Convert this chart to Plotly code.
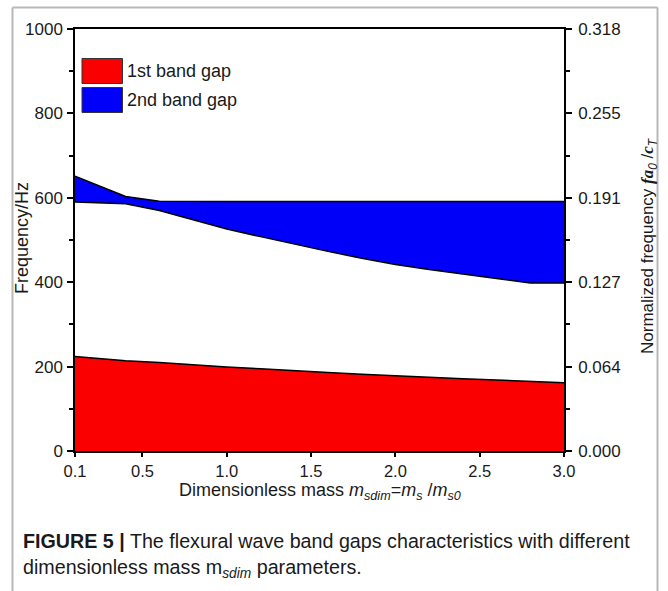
import plotly.graph_objects as go

# Dimensionless mass values where the band edges were computed
mass = [0.1, 0.4, 0.6, 0.8, 1.0, 1.2, 1.4, 1.6, 1.8, 2.0, 2.2, 2.4, 2.6, 2.8, 3.0]

# 1st band gap: lower edge is 0 Hz, upper edge below
gap1_upper = [224, 214, 210, 204, 199, 195, 190, 186, 182, 178, 175, 171, 168, 165, 162]

# 2nd band gap edges (Hz)
gap2_lower = [590, 586, 570, 548, 526, 508, 490, 473, 457, 442, 430, 420, 409, 398, 398]
gap2_upper = [651, 603, 592, 591, 591, 591, 591, 591, 591, 591, 591, 591, 591, 591, 591]

x_ticks = [0.1, 0.5, 1.0, 1.5, 2.0, 2.5, 3.0]
x_tick_text = ["0.1", "0.5", "1.0", "1.5", "2.0", "2.5", "3.0"]
y_ticks = [0, 200, 400, 600, 800, 1000]
y2_tick_text = ["0.000", "0.064", "0.127", "0.191", "0.255", "0.318"]

legend_names = ["1st band gap", "2nd band gap"]
RED = "#fa0000"
BLUE = "#0000fa"
FONT = "Liberation Sans, Arial, sans-serif"
TXT = "#1a1a1a"

W, H = 668, 591
L, R, T, B = 75, 104, 29, 140
PW, PH = W - L - R, H - T - B


def px(x):
    return (x - L) / PW


def py(y):
    return (H - B - y) / PH


fig = go.Figure()

fig.add_trace(go.Scatter(
    x=mass, y=gap1_upper, mode="lines", fill="tozeroy", fillcolor=RED,
    line=dict(color="black", width=1.5), name=legend_names[0], showlegend=False,
    hoverinfo="skip"))

fig.add_trace(go.Scatter(
    x=mass, y=gap2_lower, mode="lines",
    line=dict(color="black", width=1.5), showlegend=False, hoverinfo="skip"))
fig.add_trace(go.Scatter(
    x=mass, y=gap2_upper, mode="lines", fill="tonexty", fillcolor=BLUE,
    line=dict(color="black", width=1.5), name=legend_names[1], showlegend=False,
    hoverinfo="skip"))

# invisible trace so the normalized-frequency axis is drawn
fig.add_trace(go.Scatter(x=[mass[0]], y=[0], yaxis="y2", mode="markers",
                         marker=dict(opacity=0), showlegend=False, hoverinfo="skip"))

tickfont = dict(family=FONT, size=17, color=TXT)
minor = dict(dtick=100, ticks="outside", ticklen=4, tickwidth=1.5, tickcolor="black")

fig.update_layout(
    width=W, height=H,
    margin=dict(l=L, r=R, t=T, b=B),
    paper_bgcolor="white", plot_bgcolor="white",
    showlegend=False,
    xaxis=dict(
        range=[0.1, 3.0], tickvals=x_ticks, ticktext=x_tick_text,
        ticks="outside", ticklen=4, tickwidth=1.5, tickcolor="black",
        showline=True, linecolor="black", linewidth=1.5, mirror=True,
        showgrid=False, zeroline=False, tickfont=dict(family=FONT, size=16.5, color=TXT),
    ),
    yaxis=dict(
        range=[0, 1000], tickvals=y_ticks,
        ticks="outside", ticklen=6, tickwidth=1.5, tickcolor="black", minor=minor,
        showline=True, linecolor="black", linewidth=1.5,
        showgrid=False, zeroline=False, tickfont=tickfont, ticklabelstandoff=1,
    ),
    yaxis2=dict(
        range=[0, 1000], overlaying="y", side="right", anchor="x",
        tickvals=y_ticks, ticktext=y2_tick_text,
        ticks="outside", ticklen=6, tickwidth=1.5, tickcolor="black", minor=minor,
        showline=True, linecolor="black", linewidth=1.5,
        showgrid=False, zeroline=False, tickfont=tickfont, ticklabelstandoff=3,
    ),
)

# axis titles
title_font = dict(family=FONT, size=18, color=TXT)
fig.add_annotation(
    xref="paper", yref="paper", x=px(320), y=py(491),
    text="Dimensionless mass <i>m</i><sub><i>sdim</i></sub>=<i>m</i><sub><i>s</i></sub> /<i>m</i><sub><i>s0</i></sub>",
    showarrow=False, xanchor="center", yanchor="middle", font=title_font)
fig.add_annotation(
    xref="paper", yref="paper", x=px(22), y=py(238), text="Frequency/Hz",
    textangle=-90, showarrow=False, xanchor="center", yanchor="middle", font=title_font)
fig.add_annotation(
    xref="paper", yref="paper", x=px(649), y=py(246),
    text="Normalized frequency <b><i><span style='font-family:Liberation Serif,serif'>fa</span></i></b><sub><i>0</i></sub> /<b><i><span style='font-family:Liberation Serif,serif'>c</span></i></b><sub><i>T</i></sub>",
    textangle=-90, showarrow=False, xanchor="center", yanchor="middle",
    font=dict(family=FONT, size=17, color=TXT))

# legend swatches and labels
swatches = [(58.5, 83.5, RED), (87.5, 112.5, BLUE)]
for (y0, y1, col), name in zip(swatches, legend_names):
    fig.add_shape(type="rect", xref="paper", yref="paper",
                  x0=px(82), x1=px(122.5), y0=py(y1), y1=py(y0),
                  fillcolor=col, line=dict(color="#333", width=1))
    fig.add_annotation(xref="paper", yref="paper", x=px(125), y=py((y0 + y1) / 2),
                       text=name, showarrow=False, xanchor="left", yanchor="middle",
                       font=dict(family=FONT, size=18, color=TXT))

# page frame around figure and caption
frame = dict(color="#b8b8b8", width=2)
fig.add_shape(type="line", xref="paper", yref="paper", x0=px(12.5), x1=px(657.5),
              y0=py(7.5), y1=py(7.5), line=frame)
fig.add_shape(type="line", xref="paper", yref="paper", x0=px(12.5), x1=px(12.5),
              y0=py(7.5), y1=py(595), line=frame)
fig.add_shape(type="line", xref="paper", yref="paper", x0=px(657.5), x1=px(657.5),
              y0=py(7.5), y1=py(595), line=frame)

caption = [
    "<b>FIGURE 5 |</b> The flexural wave band gaps characteristics with different",
    "dimensionless mass m<sub><i>sdim</i></sub> parameters.",
]
for i, line in enumerate(caption):
    fig.add_annotation(xref="paper", yref="paper", x=px(21), y=py(541 + 27 * i),
                       text=line, showarrow=False, xanchor="left", yanchor="middle",
                       font=dict(family=FONT, size=19.7, color=TXT))

fig.write_html("out.html")
